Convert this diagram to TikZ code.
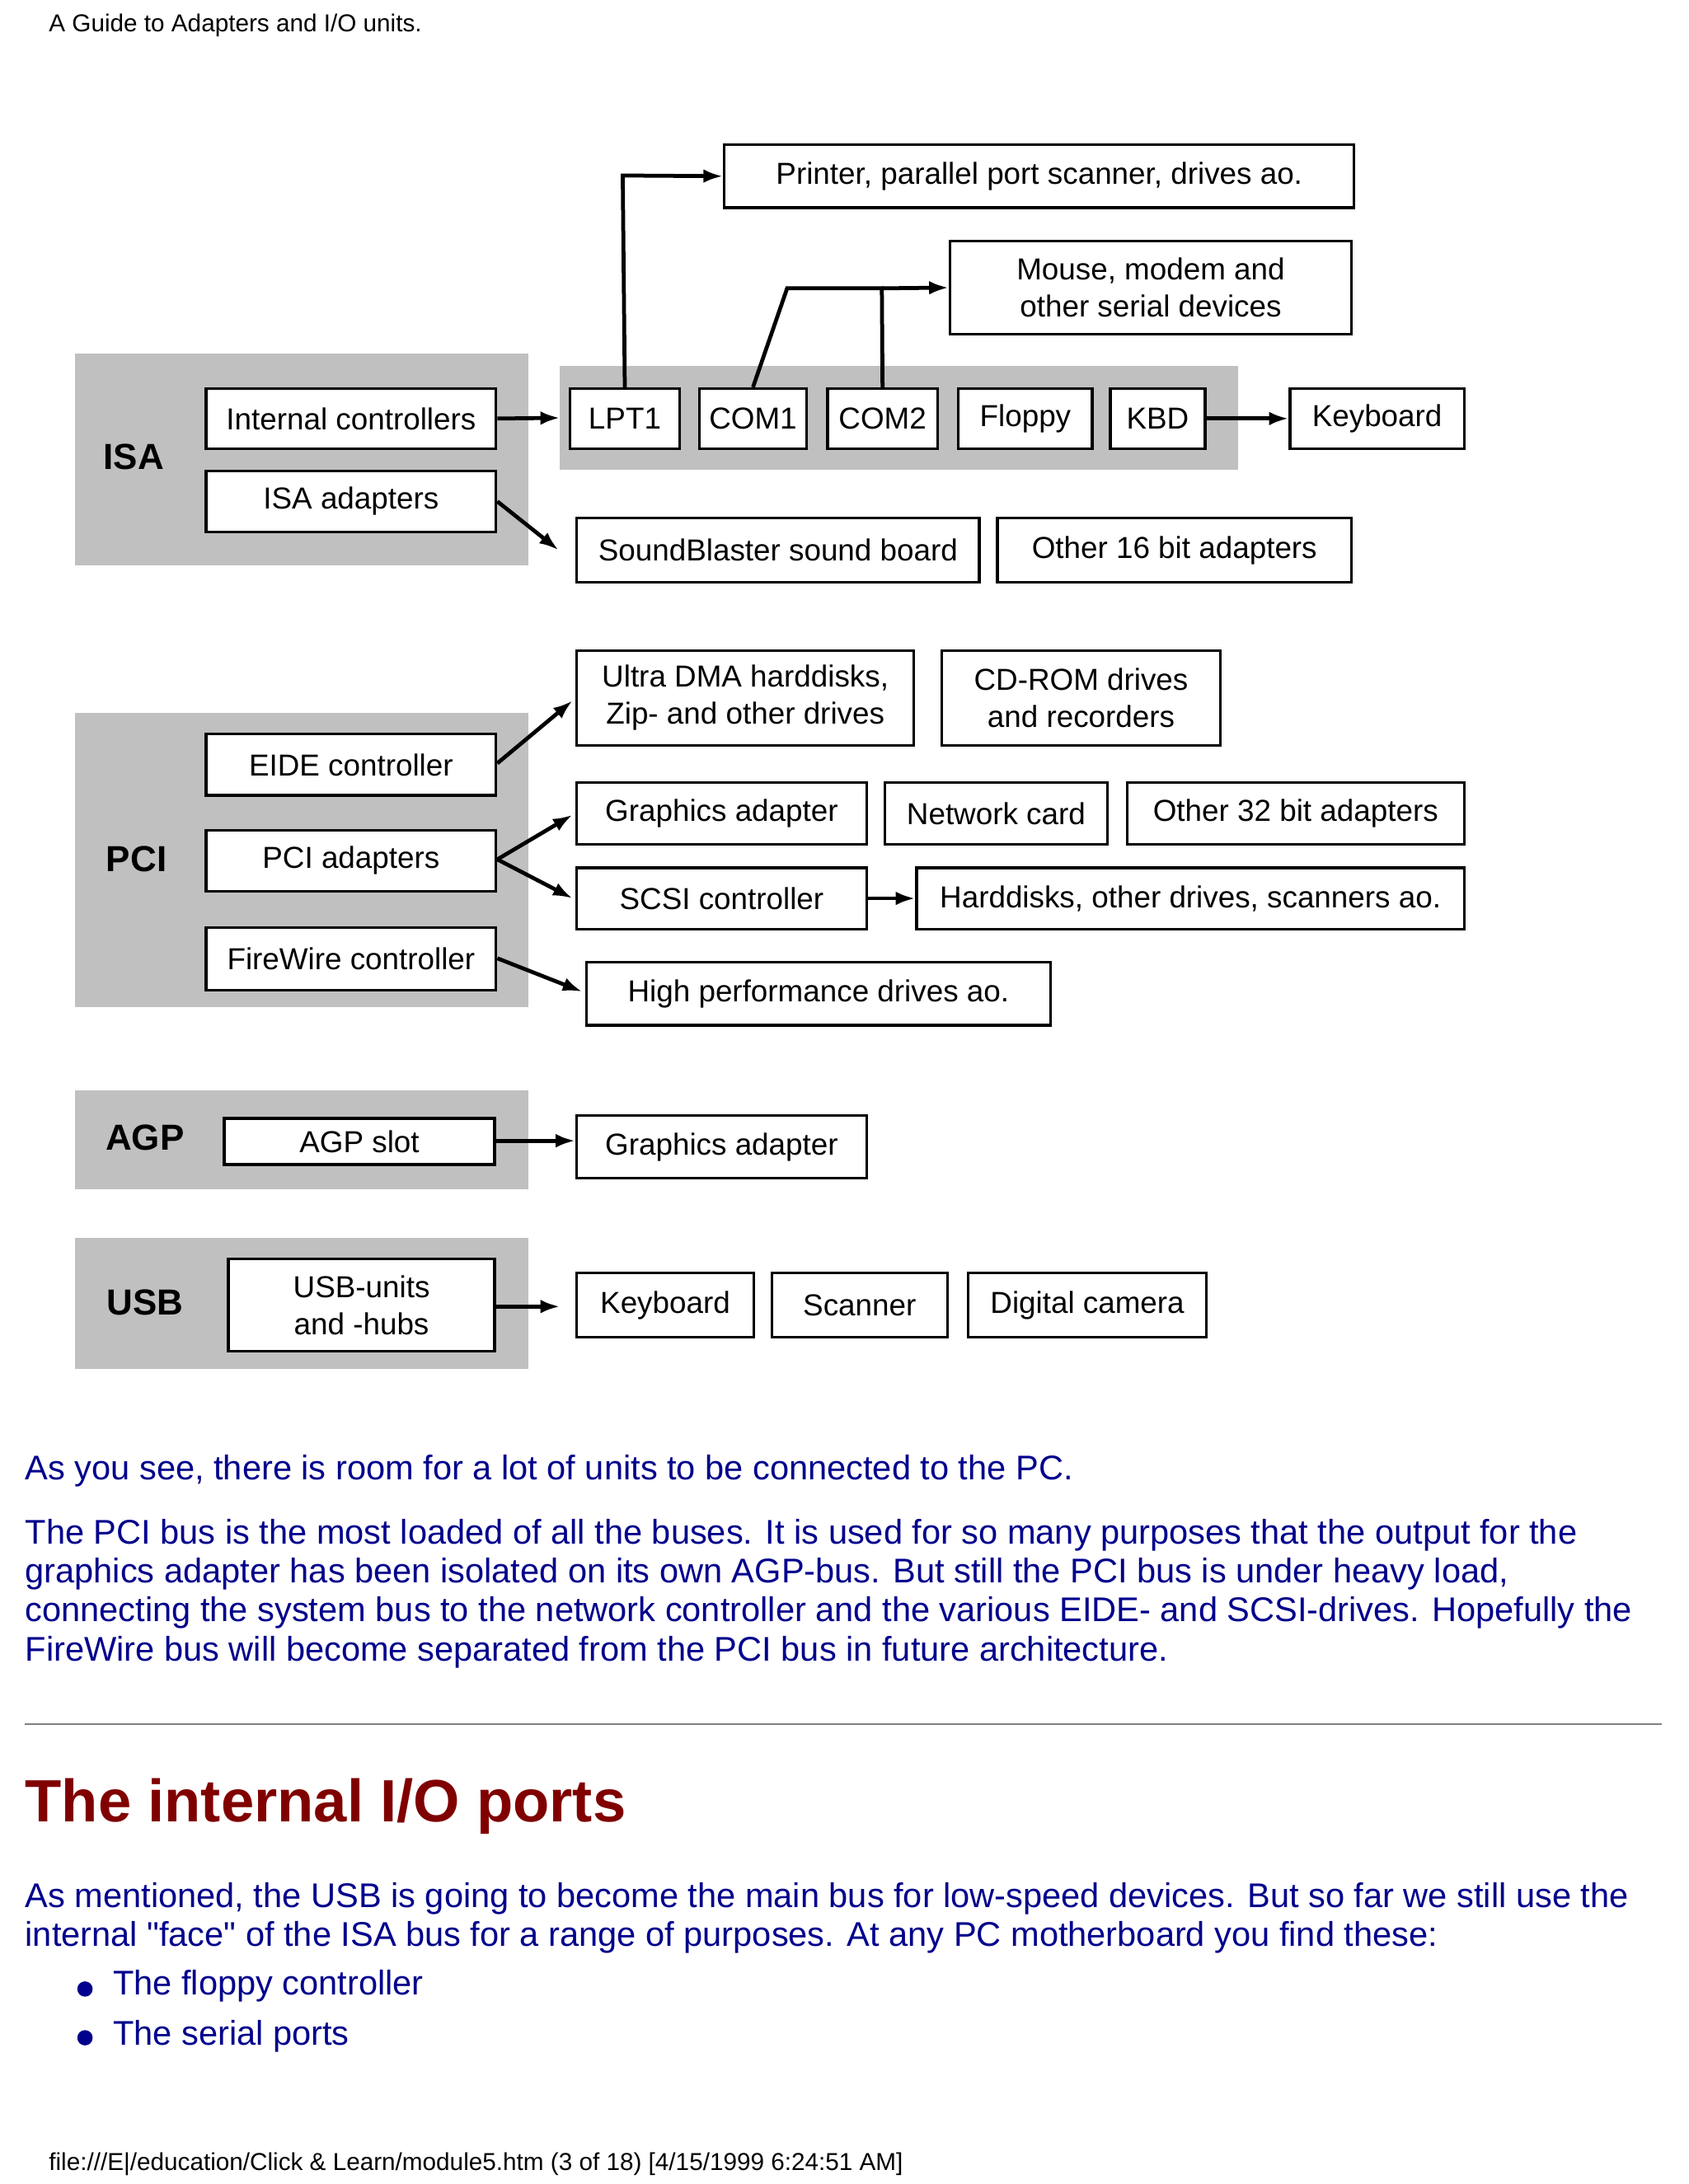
\documentclass[tikz,border=0pt]{standalone}
\usepackage{fontspec}
\setmainfont{Liberation Sans}[Ligatures=TeXOff]
\usetikzlibrary{arrows.meta}
\definecolor{navy}{RGB}{0,0,140}
\definecolor{dred}{RGB}{128,0,0}
\definecolor{gbg}{RGB}{192,192,192}
\begin{document}
\begin{tikzpicture}[x=0.05cm,y=-0.05cm,
 box/.style={draw,line width=2.8pt,fill=white,inner sep=0pt,font=\fontsize{31}{38}\selectfont,align=center},
 bus/.style={fill=gbg,draw=none},
 lab/.style={font=\fontsize{37}{40}\selectfont\bfseries},
 ar/.style={line width=4pt,-{Latex[length=20pt,width=14pt]}},
 ln/.style={line width=4pt},
 para/.style={anchor=west,text=navy,font=\fontsize{35}{40}\selectfont,inner sep=0pt}]
\useasboundingbox (0,0) rectangle (1212,1568);
\fill[white] (0,0) rectangle (1212,1568);
\newcommand\bx[6]{\node[box,minimum width=#4*0.05cm-2.8pt,minimum height=#5*0.05cm-2.8pt] (#1) at ({(#2+#4/2)},{(#3+#5/2)}) {#6};}
\node[anchor=west,inner sep=0pt,font=\fontsize{25}{28}\selectfont] (hdr) at (35,18) {A Guide to Adapters and I/O units.};
% gray buses
\fill[bus] (54,254) rectangle (379,406);
\fill[bus] (402,263) rectangle (889,337);
\fill[bus] (54,512) rectangle (379,723);
\fill[bus] (54,783) rectangle (379,854);
\fill[bus] (54,889) rectangle (379,983);
\node[lab] (isa) at (96,328) {ISA};
\node[lab] (pci) at (98,617) {PCI};
\node[lab] (agp) at (104,817) {AGP};
\node[lab] (usb) at (104,935) {USB};
% boxes
\bx{prn}{519}{103}{454}{47}{Printer, parallel port scanner, drives ao.}
\bx{mouse}{681}{172}{290}{69}{Mouse, modem and\\other serial devices}
\bx{intc}{147}{278}{210}{45}{Internal controllers}
\bx{isaad}{147}{337}{210}{46}{ISA adapters}
\bx{lpt}{408}{278}{81}{45}{LPT1}
\bx{com1}{501}{278}{79}{45}{COM1}
\bx{com2}{593}{278}{81}{45}{COM2}
\bx{flop}{687}{278}{98}{45}{Floppy}
\bx{kbd}{796}{278}{70}{45}{KBD}
\bx{kb1}{925}{278}{127}{45}{Keyboard}
\bx{sb}{413}{371}{291}{48}{SoundBlaster sound board}
\bx{o16}{715}{371}{256}{48}{Other 16 bit adapters}
\bx{udma}{413}{466}{244}{70}{Ultra DMA harddisks,\\Zip- and other drives}
\bx{cd}{675}{466}{202}{70}{CD-ROM drives\\and recorders}
\bx{eide}{147}{526}{210}{46}{EIDE controller}
\bx{pcia}{147}{595}{210}{46}{PCI adapters}
\bx{fw}{147}{665}{210}{47}{FireWire controller}
\bx{gfx}{413}{561}{210}{46}{Graphics adapter}
\bx{net}{634}{561}{162}{46}{Network card}
\bx{o32}{808}{561}{244}{46}{Other 32 bit adapters}
\bx{scsi}{413}{622}{210}{46}{SCSI controller}
\bx{hd}{657}{622}{395}{46}{Harddisks, other drives, scanners ao.}
\bx{hp}{420}{690}{335}{47}{High performance drives ao.}
\bx{agps}{160}{802}{196}{35}{AGP slot}
\bx{gfx2}{413}{800}{210}{47}{Graphics adapter}
\bx{usbu}{163}{903}{193}{68}{USB-units\\and -hubs}
\bx{kb2}{413}{913}{129}{48}{Keyboard}
\bx{scan}{553}{913}{128}{48}{Scanner}
\bx{cam}{694}{913}{173}{48}{Digital camera}
% connectors
\coordinate (c1) at (447,126);
\coordinate (c2) at (565,207);
\coordinate (c3) at (633,207);
\draw[ar] (intc.east) -- (402,300);
\draw[ar] (lpt.north) -- (c1) -- (prn.west);
\draw[ln] (com1.north) -- (c2) -- (c3) -- (com2.north);
\draw[ar] (c3) -- (mouse.west);
\draw[ar] (kbd.east) -- (kb1.west);
\draw[ar] (357,360) -- (401,395);
\draw[ar] (357,548) -- (411,503);
\draw[ar] (357,617) -- (411,585);
\draw[ar] (357,617) -- (411,645);
\draw[ar] (scsi.east) -- (hd.west);
\draw[ar] (357,688) -- (418,712);
\draw[ar] (356,819) -- (413,819);
\draw[ar] (356,938) -- (402,938);
% text
\node[para] (p1) at (18,1056) {As you see, there is room for a lot of units to be connected to the PC.};
\node[para] (p2) at (18,1102) {The PCI bus is the most loaded of all the buses. It is used for so many purposes that the output for the};
\node[para] (p3) at (18,1130) {graphics adapter has been isolated on its own AGP-bus. But still the PCI bus is under heavy load,};
\node[para] (p4) at (18,1158) {connecting the system bus to the network controller and the various EIDE- and SCSI-drives. Hopefully the};
\node[para] (p5) at (18,1186) {FireWire bus will become separated from the PCI bus in future architecture.};
\draw[line width=1.8pt,gray] (18,1238) -- (1193,1238);
\node[anchor=west,inner sep=0pt,text=dred,font=\fontsize{61}{66}\selectfont\bfseries] (h2) at (18,1297) {The internal I/O ports};
\node[para] (p6) at (18,1363) {As mentioned, the USB is going to become the main bus for low-speed devices. But so far we still use the};
\node[para] (p7) at (18,1391) {internal "face" of the ISA bus for a range of purposes. At any PC motherboard you find these:};
\fill[navy] (61,1428) circle (5.5);
\fill[navy] (61,1463) circle (5.5);
\node[para] (b1) at (81,1426) {The floppy controller};
\node[para] (b2) at (81,1462) {The serial ports};
\node[anchor=west,inner sep=0pt,font=\fontsize{25}{28}\selectfont] (ftr) at (35,1554) {file:///E|/education/Click \& Learn/module5.htm (3 of 18) [4/15/1999 6:24:51 AM]};
\end{tikzpicture}
\end{document}
